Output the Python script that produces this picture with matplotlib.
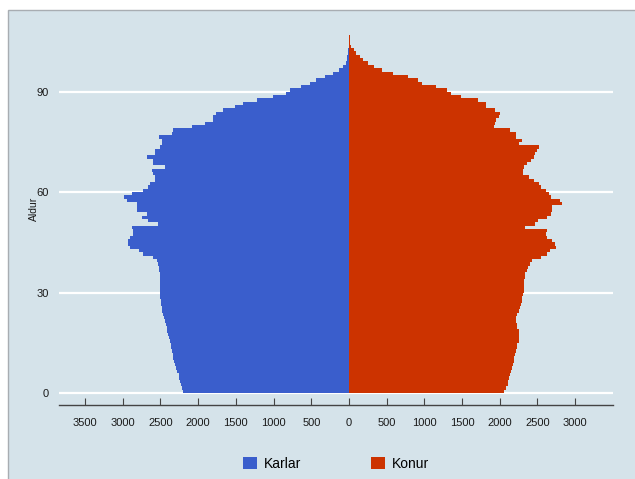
import numpy as np
import matplotlib
matplotlib.use('Agg')
from matplotlib import pyplot as plt
from matplotlib.patches import Patch, Rectangle

plt.rcParams['font.family'] = ['Liberation Sans', 'DejaVu Sans']

# age groups, 0..107
ages = np.arange(0, 108)

# Karlar (men) per year of age
karlar = [2200, 2210, 2230, 2240, 2250, 2260, 2280, 2290, 2305, 2320,
          2330, 2340, 2350, 2360, 2365, 2370, 2385, 2400, 2410, 2420,
          2430, 2445, 2455, 2470, 2480, 2485, 2490, 2495, 2500, 2500,
          2505, 2505, 2505, 2510, 2510, 2510, 2515, 2520, 2530, 2550,
          2600, 2730, 2780, 2900, 2930, 2930, 2900, 2860, 2860, 2880,
          2530, 2660, 2740, 2680, 2810, 2810, 2810, 2940, 2990, 2880,
          2730, 2660, 2640, 2570, 2570, 2600, 2610, 2440, 2600, 2600,
          2680, 2570, 2570, 2500, 2480, 2480, 2520, 2350, 2340, 2085,
          1910, 1800, 1800, 1760, 1675, 1510, 1400, 1225, 1010, 840,
          780, 635, 515, 437, 318, 216, 128, 75, 40, 30,
          20, 13, 10, 6, 4, 2, 1, 0]

# Konur (women)
konur = [2060, 2080, 2105, 2115, 2125, 2135, 2150, 2160, 2170, 2185,
         2195, 2205, 2215, 2225, 2235, 2250, 2260, 2260, 2250, 2235,
         2225, 2215, 2210, 2225, 2250, 2265, 2280, 2290, 2300, 2310,
         2315, 2320, 2320, 2325, 2330, 2340, 2355, 2375, 2400, 2430,
         2550, 2620, 2670, 2745, 2735, 2690, 2620, 2610, 2630, 2330,
         2470, 2510, 2630, 2675, 2690, 2690, 2830, 2800, 2680, 2657,
         2613, 2546, 2524, 2458, 2392, 2303, 2312, 2325, 2360, 2420,
         2458, 2470, 2500, 2515, 2250, 2300, 2215, 2215, 2135, 1930,
         1940, 1950, 1995, 2000, 1940, 1818, 1818, 1707, 1487, 1354,
         1300, 1155, 970, 912, 780, 580, 440, 338, 250, 192,
         140, 95, 60, 30, 20, 15, 10, 5]

xticks = [-3500, -3000, -2500, -2000, -1500, -1000, -500, 0,
          500, 1000, 1500, 2000, 2500, 3000]
yticks = [0, 30, 60, 90]

bg = '#d5e3ea'
blue = '#3a5ecc'
red = '#cc3300'

W, H = 635, 479
fig = plt.figure(figsize=(W / 100, H / 100), dpi=100)
fig.patch.set_facecolor('white')

# panel background with grey border (kept behind the axes)
fig.patches.append(Rectangle((8 / W, -0.01), 1.0, (H - 10) / H + 0.01,
                             transform=fig.transFigure, facecolor=bg,
                             edgecolor='#a8adb2', linewidth=1.0, zorder=-10))

ax = fig.add_axes([58.7 / W, (H - 405) / H, (613.4 - 58.7) / W, (405 - 28) / H])
ax.patch.set_alpha(0)

ax.barh(ages, -np.array(karlar), height=1.0, align='edge', color=blue,
        linewidth=0, label='Karlar', zorder=3)
ax.barh(ages, konur, height=1.0, align='edge', color=red,
        linewidth=0, label='Konur', zorder=3)

ax.set_xlim(-3850, 3507)
ax.set_ylim(-3.58, 109)

ax.set_yticks(yticks)
ax.set_yticklabels([str(v) for v in yticks])
ax.set_xticks(xticks)
ax.set_xticklabels([str(abs(v)) for v in xticks])

for v in yticks:
    ax.axhline(v, color='white', lw=1.6, zorder=1)

for s in ['top', 'left', 'right']:
    ax.spines[s].set_visible(False)
ax.spines['bottom'].set_color('#444444')
ax.spines['bottom'].set_linewidth(1.0)

ax.tick_params(axis='y', length=0, pad=7, labelsize=8, labelcolor='#1a1a1a')
ax.tick_params(axis='x', direction='in', length=5, width=0.8, color='#444444',
               pad=9, labelsize=8, labelcolor='#1a1a1a')

ax.set_ylabel('Aldur', fontsize=7.5, color='#1a1a1a', labelpad=4)
ax.yaxis.set_label_coords(-0.036, 0.52)

handles = [Patch(facecolor=blue, label='Karlar'),
           Patch(facecolor=red, label='Konur')]
fig.legend(handles=handles, loc='center', bbox_to_anchor=(336 / W, 15 / H),
           ncol=2, frameon=False, fontsize=10, handlelength=1.0,
           handleheight=1.0, handletextpad=0.5, columnspacing=5.0)

fig.savefig('out.png', dpi=100, facecolor=fig.get_facecolor())
